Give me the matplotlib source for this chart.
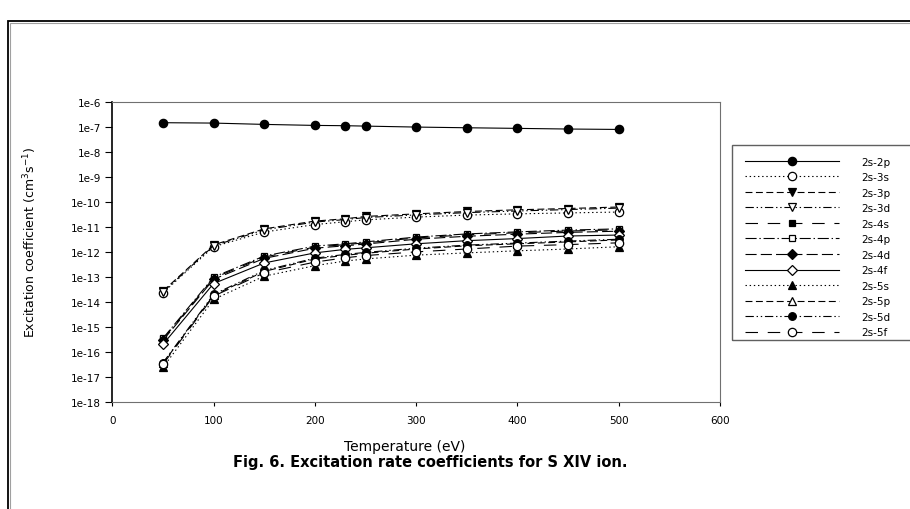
import numpy as np
import matplotlib.pyplot as plt
from matplotlib.patches import Rectangle
from matplotlib.ticker import FixedLocator, NullLocator, FuncFormatter

plt.rcParams['font.family'] = 'DejaVu Sans'
plt.rcParams['lines.scale_dashes'] = False

# Temperature grid (eV)
temp = [50, 100, 150, 200, 230, 250, 300, 350, 400, 450, 500]

# Excitation rate coefficients (cm^3 s^-1) from the 2s level
k_2p = [1.45e-7, 1.40e-7, 1.24e-7, 1.13e-7, 1.10e-7, 1.06e-7, 9.7e-8, 9.1e-8, 8.6e-8, 8.1e-8, 7.8e-8]
k_3s = [2.3e-14, 1.6e-12, 6.2e-12, 1.23e-11, 1.6e-11, 1.9e-11, 2.45e-11, 2.95e-11, 3.3e-11, 3.6e-11, 3.9e-11]
k_3p = [2.7e-14, 1.9e-12, 8.3e-12, 1.7e-11, 2.1e-11, 2.6e-11, 3.3e-11, 4.1e-11, 4.8e-11, 5.4e-11, 6.2e-11]
k_3d = [2.5e-14, 1.75e-12, 7.6e-12, 1.55e-11, 1.95e-11, 2.35e-11, 3.0e-11, 3.7e-11, 4.3e-11, 4.9e-11, 5.6e-11]
k_4s = [3.2e-16, 9.0e-14, 6.2e-13, 1.55e-12, 1.95e-12, 2.3e-12, 3.6e-12, 4.8e-12, 5.8e-12, 6.8e-12, 7.6e-12]
k_4p = [3.5e-16, 9.8e-14, 6.8e-13, 1.7e-12, 2.1e-12, 2.5e-12, 3.9e-12, 5.2e-12, 6.3e-12, 7.4e-12, 8.3e-12]
k_4d = [2.9e-16, 8.0e-14, 5.5e-13, 1.4e-12, 1.75e-12, 2.05e-12, 3.2e-12, 4.2e-12, 5.1e-12, 6.0e-12, 6.7e-12]
k_4f = [2.0e-16, 5.4e-14, 3.6e-13, 9.1e-13, 1.26e-12, 1.45e-12, 2.1e-12, 2.8e-12, 3.4e-12, 4.3e-12, 4.7e-12]
k_5s = [2.4e-17, 1.26e-14, 1.07e-13, 2.8e-13, 4.3e-13, 5.2e-13, 7.4e-13, 9.1e-13, 1.1e-12, 1.3e-12, 1.6e-12]
k_5p = [3.5e-17, 1.85e-14, 1.65e-13, 5.2e-13, 7.3e-13, 8.8e-13, 1.3e-12, 1.75e-12, 2.1e-12, 2.5e-12, 3.0e-12]
k_5d = [3.7e-17, 2.0e-14, 1.8e-13, 5.6e-13, 7.9e-13, 9.5e-13, 1.4e-12, 1.86e-12, 2.24e-12, 2.7e-12, 3.2e-12]
k_5f = [3.2e-17, 1.7e-14, 1.45e-13, 3.9e-13, 5.8e-13, 7.1e-13, 1.0e-12, 1.3e-12, 1.7e-12, 1.95e-12, 2.3e-12]

solid = '-'
dotted = (0, (1, 2))
dashed = (0, (5, 2.5))
dashdotdot = (0, (6, 2, 1, 2, 1, 2))
longgap = (0, (9, 7))
dashdot = (0, (8, 2, 1, 2))
longdash = (0, (8, 3))

# label, data, linestyle, marker, face colour, marker size
series = [
    ('2s-2p', k_2p, solid, 'o', 'black', 6),
    ('2s-3s', k_3s, dotted, 'o', 'white', 6),
    ('2s-3p', k_3p, dashed, 'v', 'black', 6),
    ('2s-3d', k_3d, dashdotdot, 'v', 'white', 6),
    ('2s-4s', k_4s, longgap, 's', 'black', 5),
    ('2s-4p', k_4p, dashdot, 's', 'white', 5),
    ('2s-4d', k_4d, longdash, 'D', 'black', 4.8),
    ('2s-4f', k_4f, solid, 'D', 'white', 4.8),
    ('2s-5s', k_5s, dotted, '^', 'black', 6),
    ('2s-5p', k_5p, dashed, '^', 'white', 6),
    ('2s-5d', k_5d, dashdotdot, 'o', 'black', 5.5),
    ('2s-5f', k_5f, longgap, 'o', 'white', 6),
]

fig = plt.figure(figsize=(9.1, 5.1), dpi=100)

# outer frame of the figure panel
fig.patches.append(Rectangle((8 / 910, -0.05), 1.1, 1 - 22 / 510 + 0.05,
                             transform=fig.transFigure, fill=False,
                             edgecolor='black', lw=1.3))
fig.patches.append(Rectangle((9.5 / 910, -0.05), 1.1, 1 - 23.5 / 510 + 0.05,
                             transform=fig.transFigure, fill=False,
                             edgecolor='#a0a0a0', lw=0.8))

ax = fig.add_axes([0.1234, 0.2098, 0.6678, 0.5888])
for label, vals, ls, mk, fc, ms in series:
    ax.plot(temp, vals, linestyle=ls, color='black', lw=0.8,
            marker=mk, mfc=fc, mec='black', mew=0.9, ms=ms, label=label)

ax.set_yscale('log')
ax.set_xlim(0, 600)
ax.set_ylim(1e-18, 1e-6)
ax.set_xticks(range(0, 700, 100))
ax.yaxis.set_major_locator(FixedLocator(10.0 ** np.arange(-18, -5)))
ax.yaxis.set_minor_locator(NullLocator())
ax.yaxis.set_major_formatter(FuncFormatter(lambda v, p: '1e%d' % round(np.log10(v))))
ax.tick_params(axis='both', direction='out', labelsize=7.5, width=0.8)
ax.tick_params(axis='y', length=5, pad=3)
ax.tick_params(axis='x', length=3, pad=6)
for side in ['top', 'right', 'bottom']:
    ax.spines[side].set_color('#707070')
ax.spines['left'].set_color('black')
ax.spines['left'].set_linewidth(1.2)

fig.text(30 / 910, 1 - 242 / 510, 'Excitation coefficient (cm$^3$s$^{-1}$)',
         rotation=90, ha='center', va='center', fontsize=9)
fig.text(405 / 910, 1 - 447 / 510, 'Temperature (eV)',
         ha='center', va='center', fontsize=10)
fig.text(430 / 910, 1 - 463 / 510, 'Fig. 6. Excitation rate coefficients for S XIV ion.',
         ha='center', va='center', fontsize=10.5, fontweight='bold')

# legend box runs off the right edge
fig.patches.append(Rectangle((732 / 910, 1 - 341 / 510), 0.3, (341 - 146) / 510,
                             transform=fig.transFigure, fill=False,
                             edgecolor='#606060', lw=1))
ax.legend(loc='upper left', bbox_to_anchor=(745 / 910, 1 - 157.5 / 510),
          bbox_transform=fig.transFigure, frameon=False, fontsize=7.5,
          numpoints=1, handlelength=9.0, handletextpad=2.2,
          labelspacing=0.53, borderpad=0, borderaxespad=0, handleheight=0.7)

fig.savefig('out.png', dpi=100)
